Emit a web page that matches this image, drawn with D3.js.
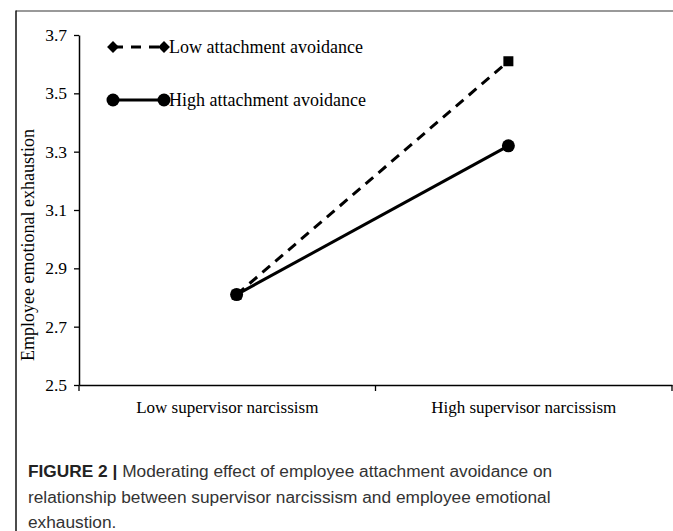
<!DOCTYPE html>
<html>
<head>
<meta charset="utf-8">
<script src="https://cdn.jsdelivr.net/npm/d3@7"></script>
<style>
  body { margin: 0; background: #fff; }
  svg { display: block; }
</style>
</head>
<body>
<div id="chart"></div>
<script>
// data
const categories = ["Low supervisor narcissism", "High supervisor narcissism"];
const lowAvoidance = [2.81, 3.61];
const highAvoidance = [2.81, 3.32];
const yTicks = [2.5, 2.7, 2.9, 3.1, 3.3, 3.5, 3.7];
const seriesNames = ["Low attachment avoidance", "High attachment avoidance"];
const captionLines = [
  "Moderating effect of employee attachment avoidance on",
  "relationship between supervisor narcissism and employee emotional",
  "exhaustion."
];

const width = 673, height = 531;
const serif = "'Liberation Serif', 'Times New Roman', serif";
const sans = "'Liberation Sans', Arial, sans-serif";

let svg = d3.select('#chart').append('svg')
  .attr('width', width)
  .attr('height', height);

// frame
svg.append('line')
  .attr('x1', 16).attr('x2', width).attr('y1', 11).attr('y2', 11)
  .attr('stroke', '#777').attr('stroke-width', 1.5);
svg.append('line')
  .attr('x1', 16).attr('x2', 16).attr('y1', 10.5).attr('y2', height)
  .attr('stroke', '#111').attr('stroke-width', 1.5);

const x0 = 79, x1 = 672, yTop = 35, yBot = 385;

let y = d3.scaleLinear().domain([2.5, 3.7]).range([yBot, yTop]);
let xBand = d3.scaleBand().domain(categories).range([x0, x1]);
let xPt = d3.scalePoint().domain(categories).range([x0, x1 - 6]).padding(0.58);

// y axis
let yAxis = svg.append('g')
  .attr('transform', 'translate(' + x0 + ',0)')
  .call(d3.axisLeft(y).tickValues(yTicks).tickFormat(d3.format('.1f')).tickSize(5).tickSizeOuter(0));
yAxis.select('.domain').attr('stroke', '#000').attr('stroke-width', 1.5);
yAxis.selectAll('.tick line').attr('stroke', '#000').attr('stroke-width', 1.3);
yAxis.selectAll('text')
  .attr('x', -12)
  .style('font-family', serif).style('font-size', '17.5px').attr('fill', '#000');

// x axis
let xAxis = svg.append('g')
  .attr('transform', 'translate(0,' + yBot + ')')
  .call(d3.axisBottom(xBand).tickSize(0).tickSizeOuter(0));
xAxis.select('.domain').attr('stroke', '#000').attr('stroke-width', 1.5);
xAxis.selectAll('text')
  .attr('dy', '1.45em')
  .style('font-family', serif).style('font-size', '17px').attr('fill', '#000');
// category separators
svg.selectAll('.xsep')
  .data([x0, xBand(categories[1]), x1])
  .enter().append('line')
  .attr('x1', d => d).attr('x2', d => d)
  .attr('y1', yBot).attr('y2', yBot + 6)
  .attr('stroke', '#000').attr('stroke-width', 1.3);

// y label
svg.append('text')
  .attr('transform', 'translate(34,245) rotate(-90)')
  .attr('text-anchor', 'middle')
  .style('font-family', serif).style('font-size', '18px')
  .text('Employee emotional exhaustion');

let line = d3.line().x((d, i) => xPt(categories[i])).y(d => y(d));

// low avoidance (dashed)
svg.append('path')
  .attr('d', line(lowAvoidance))
  .attr('fill', 'none').attr('stroke', '#000').attr('stroke-width', 3)
  .attr('stroke-dasharray', '10,7');
svg.selectAll('.sq')
  .data(lowAvoidance)
  .enter().append('rect')
  .attr('x', (d, i) => xPt(categories[i]) - 5)
  .attr('y', d => y(d) - 5)
  .attr('width', 10).attr('height', 10)
  .attr('fill', '#000');

// high avoidance (solid)
svg.append('path')
  .attr('d', line(highAvoidance))
  .attr('fill', 'none').attr('stroke', '#000').attr('stroke-width', 3);
svg.selectAll('.dot')
  .data(highAvoidance)
  .enter().append('circle')
  .attr('cx', (d, i) => xPt(categories[i]))
  .attr('cy', d => y(d))
  .attr('r', 6.5)
  .attr('fill', '#000');

// legend
const legX1 = 113, legX2 = 164;
let leg = svg.selectAll('.leg')
  .data(seriesNames)
  .enter().append('g')
  .attr('transform', (d, i) => 'translate(0,' + [47, 100][i] + ')');
leg.append('line')
  .attr('x1', legX1).attr('x2', legX2)
  .attr('stroke', '#000').attr('stroke-width', 3)
  .attr('stroke-dasharray', (d, i) => i === 0 ? '10,8' : null);
leg.each(function(d, i) {
  let g = d3.select(this);
  [legX1, legX2].forEach(function(px) {
    if (i === 0) {
      g.append('path')
        .attr('d', d3.symbol(d3.symbolDiamond2, 90)())
        .attr('transform', 'translate(' + px + ',0)')
        .attr('fill', '#000');
    } else {
      g.append('circle').attr('cx', px).attr('r', 6.5).attr('fill', '#000');
    }
  });
});
leg.append('text')
  .attr('x', legX2 + 5)
  .attr('dy', '0.35em')
  .style('font-family', serif).style('font-size', '18px')
  .text(d => d);

// caption
let cap = svg.append('text')
  .style('font-family', sans).style('font-size', '17.3px').attr('fill', '#333');
cap.append('tspan').attr('x', 28).attr('y', 477)
  .style('font-weight', 'bold').attr('fill', '#222').text('FIGURE 2 | ');
cap.append('tspan').text(captionLines[0]);
captionLines.slice(1).forEach(function(t, i) {
  cap.append('tspan').attr('x', 28).attr('y', 477 + 25.5 * (i + 1)).text(t);
});
</script>
</body>
</html>
